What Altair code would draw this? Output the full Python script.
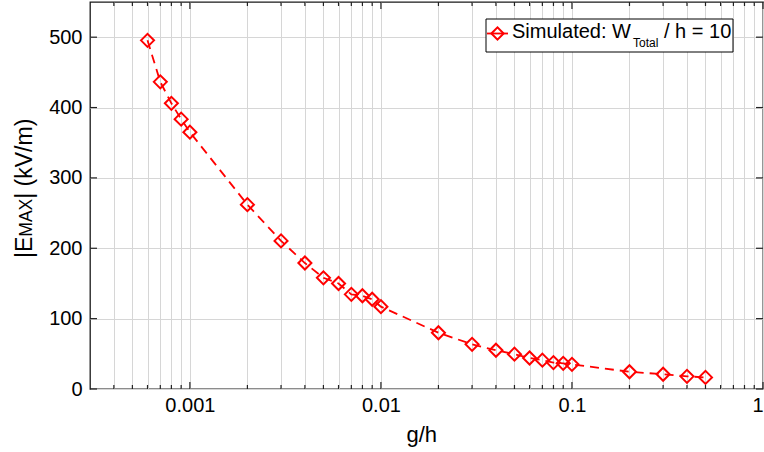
import altair as alt
import pandas as pd

# ---- data ----
g_over_h = [0.0006, 0.0007, 0.0008, 0.0009, 0.001,
            0.002, 0.003, 0.004, 0.005, 0.006, 0.007, 0.008, 0.009, 0.01,
            0.02, 0.03, 0.04, 0.05, 0.06, 0.07, 0.08, 0.09, 0.1,
            0.2, 0.3, 0.4, 0.5]
e_max = [495.5, 436.5, 406, 383.5, 365,
         262, 210.5, 179, 158, 150, 134.5, 132.5, 127.5, 117,
         80, 63.5, 55, 49.5, 44, 41, 37.5, 36.5, 35,
         24.5, 21, 18, 16.5]

x_major = [0.001, 0.01, 0.1, 1]
x_minor = [0.0004, 0.0005, 0.0006, 0.0007, 0.0008, 0.0009,
           0.002, 0.003, 0.004, 0.005, 0.006, 0.007, 0.008, 0.009,
           0.02, 0.03, 0.04, 0.05, 0.06, 0.07, 0.08, 0.09,
           0.2, 0.3, 0.4, 0.5, 0.6, 0.7, 0.8, 0.9]
y_major = [0, 100, 200, 300, 400, 500]
x_domain = [0.0003, 1]
y_domain = [0, 550]

legend_label = ["Simulated: W", "Total", "/ h = 10"]
y_title = ["|E", "MAX", "| (kV/m)"]
x_title = "g/h"

W, H = 673, 387
FONT = "Liberation Sans"
RED = "#ff0000"
GRID = "#d6d6d6"

df = pd.DataFrame({"gh": g_over_h, "e": e_max})
xs = alt.Scale(type="log", domain=x_domain, nice=False)
ys = alt.Scale(domain=y_domain, nice=False, zero=False)

x_all = sorted(x_minor + x_major)

XAX = alt.Axis(values=x_all, grid=True, gridColor=GRID, gridWidth=1,
               ticks=False, domain=False, labelFont=FONT, labelFontSize=20,
               labelColor="#000", labelPadding=6, labelOverlap=False,
               labelExpr="indexof([0.001,0.01,0.1,1], datum.value) >= 0 ? format(datum.value, '~g') : ''",
               title=None)
YAX = alt.Axis(values=y_major, grid=True, gridColor=GRID, gridWidth=1,
               ticks=False, domain=False, labelFont=FONT, labelFontSize=20,
               labelColor="#000", labelPadding=8, title=None)

line = alt.Chart(df).mark_line(color=RED, strokeWidth=1.8, strokeDash=[9, 6]).encode(
    x=alt.X("gh:Q", scale=xs, axis=XAX),
    y=alt.Y("e:Q", scale=ys, axis=YAX),
)
pts = alt.Chart(df).mark_point(shape="diamond", filled=False, color=RED, size=170,
                               strokeWidth=2, opacity=1).encode(
    x=alt.X("gh:Q", scale=xs, axis=XAX), y=alt.Y("e:Q", scale=ys, axis=YAX))

# inward ticks on all four sides
dmaj = pd.DataFrame({"t": x_major})
dmin = pd.DataFrame({"t": x_minor})
dy = pd.DataFrame({"t": y_major})
tick_style = dict(color="#222", strokeWidth=1.2)
ticks = []
for d, L in ((dmaj, 7), (dmin, 4)):
    ticks.append(alt.Chart(d).mark_rule(**tick_style).encode(
        x=alt.X("t:Q", scale=xs, axis=XAX), y=alt.value(H), y2=alt.value(H - L)))
    ticks.append(alt.Chart(d).mark_rule(**tick_style).encode(
        x=alt.X("t:Q", scale=xs, axis=XAX), y=alt.value(0), y2=alt.value(L)))
ticks.append(alt.Chart(dy).mark_rule(**tick_style).encode(
    y=alt.Y("t:Q", scale=ys, axis=YAX), x=alt.value(0), x2=alt.value(7)))
ticks.append(alt.Chart(dy).mark_rule(**tick_style).encode(
    y=alt.Y("t:Q", scale=ys, axis=YAX), x=alt.value(W - 7), x2=alt.value(W)))

# legend box
one = pd.DataFrame({"a": [0]})
box = alt.Chart(one).mark_rect(fill="white", stroke="#000", strokeWidth=1).encode(
    x=alt.value(396), x2=alt.value(643), y=alt.value(17), y2=alt.value(50))
leg_line = alt.Chart(one).mark_rule(color=RED, strokeWidth=1.8).encode(
    x=alt.value(397), x2=alt.value(418), y=alt.value(31.5))
leg_pt = alt.Chart(one).mark_point(shape="diamond", filled=False, color=RED, size=150,
                                   strokeWidth=2, opacity=1).encode(
    x=alt.value(407.5), y=alt.value(31.5))
txt = dict(font=FONT, color="#000", align="left", baseline="alphabetic")
leg_t1 = alt.Chart(one).mark_text(fontSize=20, **txt).encode(
    x=alt.value(422), y=alt.value(35.7), text=alt.value(legend_label[0]))
leg_t2 = alt.Chart(one).mark_text(fontSize=12, **txt).encode(
    x=alt.value(543), y=alt.value(44.8), text=alt.value(legend_label[1]))
leg_t3 = alt.Chart(one).mark_text(fontSize=20, **txt).encode(
    x=alt.value(574), y=alt.value(35.7), text=alt.value(legend_label[2]))

# axis titles
xt = alt.Chart(one).mark_text(fontSize=22, font=FONT, color="#000", align="center",
                              baseline="alphabetic").encode(
    x=alt.value(331.7), y=alt.value(439.7), text=alt.value(x_title))
F1, F2 = 23, 17.5
y0 = 256
w1 = 0.927 * F1
w2 = 2.167 * F2
yt1 = alt.Chart(one).mark_text(fontSize=F1, angle=270, **txt).encode(
    x=alt.value(-58.3), y=alt.value(y0), text=alt.value(y_title[0]))
yt2 = alt.Chart(one).mark_text(fontSize=F2, angle=270, **txt).encode(
    x=alt.value(-58.3), y=alt.value(y0 - w1), text=alt.value(y_title[1]))
yt3 = alt.Chart(one).mark_text(fontSize=F1, angle=270, **txt).encode(
    x=alt.value(-58.3), y=alt.value(y0 - w1 - w2), text=alt.value(y_title[2]))

chart = alt.layer(line, pts, *ticks, box, leg_line, leg_pt, leg_t1, leg_t2, leg_t3,
                  xt, yt1, yt2, yt3).properties(
    width=W, height=H,
    autosize=alt.AutoSizeParams(type="none"),
    padding={"left": 90, "top": 2, "right": 1, "bottom": 63},
    background="white",
).configure_view(stroke="#1a1a1a", strokeWidth=1.3)

chart.save("out.html", embed_options={"renderer": "svg", "actions": False})
